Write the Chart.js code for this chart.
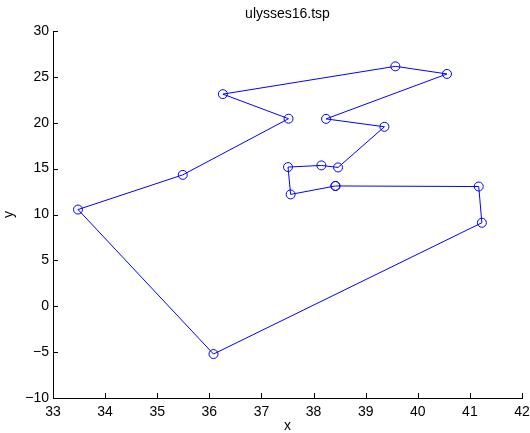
<!DOCTYPE html>
<html>
<head>
<meta charset="utf-8">
<script src="https://cdn.jsdelivr.net/npm/chart.js@4.4.1/dist/chart.umd.min.js"></script>
<style>
  html, body { margin: 0; padding: 0; background: #fff; }
  #wrap { width: 530px; height: 433px; }
</style>
</head>
<body>
<div id="wrap"><canvas id="tourChart" width="530" height="433"></canvas></div>
<script>
// ulysses16 tour, in visiting order (start city repeated at the end)
const tourX = [38.42, 41.17, 41.23, 36.08, 33.48, 35.49, 37.52, 36.26, 39.57, 40.56, 38.24, 39.36, 38.47, 38.15, 37.51, 37.56, 38.42];
const tourY = [13.11, 13.05, 9.10, -5.21, 10.54, 14.32, 20.44, 23.12, 26.15, 25.32, 20.42, 19.56, 15.13, 15.35, 15.17, 12.19, 13.11];

const xTicks = [33, 34, 35, 36, 37, 38, 39, 40, 41, 42];
const yTicks = [-10, -5, 0, 5, 10, 15, 20, 25, 30];

const fontFamily = '"Liberation Sans", Arial, Helvetica, sans-serif';

// matlab style ticks: drawn inside the axes
const inwardTicks = {
  id: 'inwardTicks',
  afterDraw(chart) {
    const ctx = chart.ctx;
    const xs = chart.scales.x;
    const ys = chart.scales.y;
    const len = 5;
    ctx.save();
    ctx.strokeStyle = '#000';
    ctx.lineWidth = 1;
    ctx.beginPath();
    xTicks.forEach(v => {
      const px = Math.round(xs.getPixelForValue(v)) + 0.5;
      ctx.moveTo(px, ys.bottom);
      ctx.lineTo(px, ys.bottom - len);
    });
    yTicks.forEach(v => {
      const py = Math.round(ys.getPixelForValue(v)) + 0.5;
      ctx.moveTo(xs.left, py);
      ctx.lineTo(xs.left + len, py);
    });
    ctx.stroke();
    ctx.restore();
  }
};

new Chart(document.getElementById('tourChart'), {
  type: 'scatter',
  data: {
    datasets: [{
      label: 'tour',
      data: tourX.map((x, i) => ({ x: x, y: tourY[i] })),
      showLine: true,
      borderColor: '#0000ff',
      borderWidth: 1,
      pointRadius: 4.5,
      pointBorderWidth: 1,
      pointBorderColor: '#0000ff',
      pointBackgroundColor: 'rgba(0,0,0,0)',
      pointHoverRadius: 4.5,
      tension: 0
    }]
  },
  plugins: [inwardTicks],
  options: {
    responsive: false,
    animation: false,
    events: [],
    layout: { padding: { left: 0, right: 8, top: 0, bottom: 0 } },
    plugins: {
      legend: { display: false },
      tooltip: { enabled: false },
      title: {
        display: true,
        fullSize: false,
        text: 'ulysses16.tsp',
        color: '#000',
        font: { family: fontFamily, size: 14, weight: 'normal', lineHeight: 1.2 },
        padding: { top: 5.4, bottom: 8.8 }
      }
    },
    scales: {
      x: {
        type: 'linear',
        min: 33,
        max: 42,
        afterBuildTicks: s => { s.ticks = xTicks.map(v => ({ value: v })); },
        afterFit: s => {
          s.height = 35;
          s.paddingLeft = 0;
          s.paddingRight = 0;
        },
        grid: { display: true, drawOnChartArea: false, drawTicks: false },
        border: { display: true, color: '#000', width: 1 },
        ticks: {
          color: '#000',
          padding: 6,
          maxRotation: 0,
          font: { family: fontFamily, size: 14 },
          callback: v => String(v)
        },
        title: {
          display: true,
          text: 'x',
          color: '#000',
          font: { family: fontFamily, size: 14, lineHeight: 1 },
          padding: { top: 0, bottom: 0 }
        }
      },
      y: {
        type: 'linear',
        min: -10,
        max: 30,
        afterBuildTicks: s => { s.ticks = yTicks.map(v => ({ value: v })); },
        afterFit: s => {
          s.width = 53;
          s.paddingTop = 0;
          s.paddingBottom = 0;
        },
        grid: { display: true, drawOnChartArea: false, drawTicks: false },
        border: { display: true, color: '#000', width: 1 },
        ticks: {
          color: '#000',
          padding: 4,
          font: { family: fontFamily, size: 14 },
          callback: v => (v < 0 ? '\u2212' + Math.abs(v) : String(v))
        },
        title: {
          display: true,
          text: 'y',
          color: '#000',
          font: { family: fontFamily, size: 14, lineHeight: 1 },
          padding: { top: 2, bottom: 0 }
        }
      }
    }
  }
});
</script>
</body>
</html>
